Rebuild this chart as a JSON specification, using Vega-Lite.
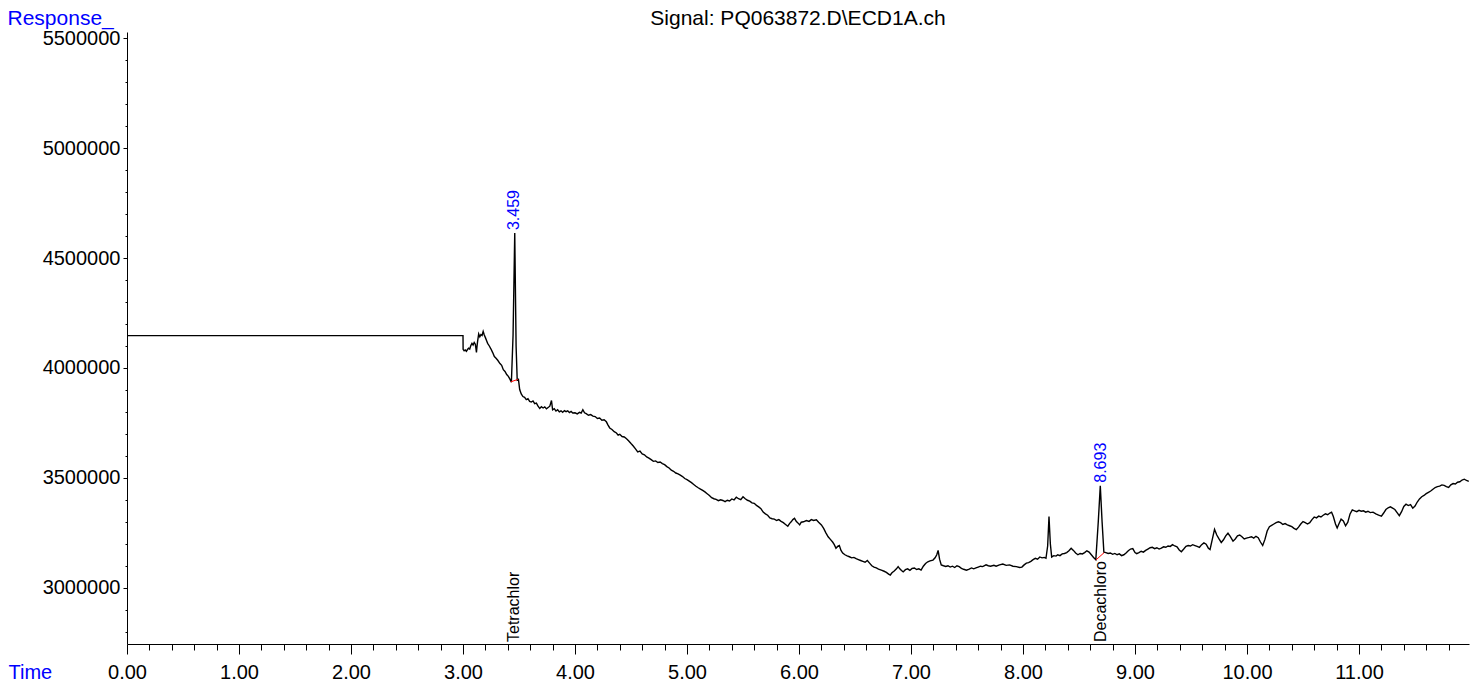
{
"$schema": "https://vega.github.io/schema/vega-lite/v6.json",
"width": 1342, "height": 612,
"autosize": {"type": "none"},
"padding": {"left": 127, "top": 32, "right": 15, "bottom": 39},
"background": "white",
"config": {"view": {"stroke": null}, "font": "Liberation Sans"},
"title": {"text": "Signal: PQ063872.D\\ECD1A.ch", "fontSize": 21, "fontWeight": "normal", "color": "black", "anchor": "middle", "frame": "group", "offset": 0, "dy": 22},
"datasets": {
"trace": [
{"time":0,"response":4147000},{"time":3.0,"response":4147000},{"time":3.001,"response":4085000},{"time":3.01,"response":4078000},{"time":3.02,"response":4082000},{"time":3.03,"response":4076000},{"time":3.04,"response":4084000},{"time":3.05,"response":4090000},{"time":3.06,"response":4086000},{"time":3.07,"response":4102000},{"time":3.08,"response":4112000},{"time":3.09,"response":4104000},{"time":3.1,"response":4116000},{"time":3.11,"response":4108000},{"time":3.115,"response":4090000},{"time":3.12,"response":4071000},{"time":3.125,"response":4098000},{"time":3.13,"response":4120000},{"time":3.14,"response":4155000},{"time":3.15,"response":4142000},{"time":3.16,"response":4152000},{"time":3.17,"response":4148000},{"time":3.18,"response":4166000},{"time":3.19,"response":4150000},{"time":3.2,"response":4138000},{"time":3.21,"response":4125000},{"time":3.22,"response":4112000},{"time":3.235,"response":4100000},{"time":3.25,"response":4086000},{"time":3.265,"response":4070000},{"time":3.28,"response":4052000},{"time":3.295,"response":4044000},{"time":3.31,"response":4035000},{"time":3.33,"response":4020000},{"time":3.345,"response":4012000},{"time":3.36,"response":3992000},{"time":3.375,"response":3984000},{"time":3.39,"response":3970000},{"time":3.405,"response":3962000},{"time":3.42,"response":3948000},{"time":3.432,"response":3935000},{"time":3.447,"response":4150000},{"time":3.462,"response":4614000},{"time":3.474,"response":4100000},{"time":3.484,"response":3945000},{"time":3.495,"response":3948000},{"time":3.506,"response":3902000},{"time":3.52,"response":3882000},{"time":3.535,"response":3870000},{"time":3.55,"response":3866000},{"time":3.565,"response":3856000},{"time":3.58,"response":3860000},{"time":3.595,"response":3848000},{"time":3.61,"response":3845000},{"time":3.625,"response":3850000},{"time":3.64,"response":3838000},{"time":3.655,"response":3840000},{"time":3.67,"response":3826000},{"time":3.685,"response":3816000},{"time":3.7,"response":3824000},{"time":3.715,"response":3818000},{"time":3.73,"response":3823000},{"time":3.745,"response":3814000},{"time":3.76,"response":3820000},{"time":3.775,"response":3826000},{"time":3.79,"response":3852000},{"time":3.8,"response":3810000},{"time":3.815,"response":3815000},{"time":3.83,"response":3804000},{"time":3.845,"response":3810000},{"time":3.86,"response":3800000},{"time":3.875,"response":3805000},{"time":3.89,"response":3798000},{"time":3.905,"response":3806000},{"time":3.92,"response":3801000},{"time":3.935,"response":3805000},{"time":3.95,"response":3797000},{"time":3.965,"response":3802000},{"time":3.98,"response":3795000},{"time":4.0,"response":3796000},{"time":4.02,"response":3791000},{"time":4.04,"response":3798000},{"time":4.055,"response":3795000},{"time":4.07,"response":3810000},{"time":4.085,"response":3796000},{"time":4.1,"response":3792000},{"time":4.12,"response":3785000},{"time":4.14,"response":3788000},{"time":4.16,"response":3781000},{"time":4.18,"response":3779000},{"time":4.2,"response":3770000},{"time":4.22,"response":3772000},{"time":4.24,"response":3762000},{"time":4.26,"response":3764000},{"time":4.28,"response":3755000},{"time":4.295,"response":3740000},{"time":4.31,"response":3727000},{"time":4.33,"response":3720000},{"time":4.35,"response":3710000},{"time":4.37,"response":3704000},{"time":4.385,"response":3694000},{"time":4.4,"response":3698000},{"time":4.42,"response":3688000},{"time":4.44,"response":3686000},{"time":4.46,"response":3678000},{"time":4.48,"response":3668000},{"time":4.5,"response":3656000},{"time":4.52,"response":3645000},{"time":4.54,"response":3632000},{"time":4.56,"response":3618000},{"time":4.58,"response":3622000},{"time":4.6,"response":3609000},{"time":4.62,"response":3605000},{"time":4.64,"response":3595000},{"time":4.66,"response":3590000},{"time":4.68,"response":3583000},{"time":4.7,"response":3575000},{"time":4.72,"response":3577000},{"time":4.74,"response":3570000},{"time":4.76,"response":3572000},{"time":4.78,"response":3565000},{"time":4.8,"response":3560000},{"time":4.82,"response":3551000},{"time":4.84,"response":3545000},{"time":4.86,"response":3535000},{"time":4.88,"response":3530000},{"time":4.9,"response":3522000},{"time":4.92,"response":3518000},{"time":4.94,"response":3512000},{"time":4.96,"response":3506000},{"time":4.98,"response":3497000},{"time":5.0,"response":3492000},{"time":5.02,"response":3485000},{"time":5.04,"response":3478000},{"time":5.06,"response":3470000},{"time":5.08,"response":3462000},{"time":5.1,"response":3455000},{"time":5.12,"response":3449000},{"time":5.14,"response":3443000},{"time":5.16,"response":3436000},{"time":5.18,"response":3428000},{"time":5.2,"response":3420000},{"time":5.22,"response":3410000},{"time":5.24,"response":3405000},{"time":5.26,"response":3402000},{"time":5.28,"response":3396000},{"time":5.3,"response":3400000},{"time":5.32,"response":3397000},{"time":5.34,"response":3392000},{"time":5.36,"response":3398000},{"time":5.38,"response":3395000},{"time":5.4,"response":3404000},{"time":5.42,"response":3400000},{"time":5.44,"response":3412000},{"time":5.46,"response":3405000},{"time":5.48,"response":3401000},{"time":5.5,"response":3414000},{"time":5.52,"response":3405000},{"time":5.54,"response":3398000},{"time":5.56,"response":3394000},{"time":5.58,"response":3386000},{"time":5.6,"response":3384000},{"time":5.62,"response":3375000},{"time":5.64,"response":3368000},{"time":5.66,"response":3360000},{"time":5.68,"response":3344000},{"time":5.7,"response":3336000},{"time":5.72,"response":3330000},{"time":5.74,"response":3318000},{"time":5.76,"response":3314000},{"time":5.78,"response":3312000},{"time":5.8,"response":3306000},{"time":5.82,"response":3310000},{"time":5.84,"response":3302000},{"time":5.86,"response":3296000},{"time":5.88,"response":3288000},{"time":5.9,"response":3280000},{"time":5.915,"response":3292000},{"time":5.93,"response":3300000},{"time":5.945,"response":3310000},{"time":5.96,"response":3316000},{"time":5.975,"response":3302000},{"time":5.99,"response":3295000},{"time":6.006,"response":3286000},{"time":6.02,"response":3298000},{"time":6.04,"response":3300000},{"time":6.066,"response":3306000},{"time":6.09,"response":3302000},{"time":6.11,"response":3310000},{"time":6.13,"response":3306000},{"time":6.155,"response":3309000},{"time":6.175,"response":3298000},{"time":6.2,"response":3286000},{"time":6.22,"response":3270000},{"time":6.24,"response":3250000},{"time":6.26,"response":3232000},{"time":6.28,"response":3220000},{"time":6.3,"response":3208000},{"time":6.315,"response":3196000},{"time":6.33,"response":3180000},{"time":6.345,"response":3188000},{"time":6.36,"response":3192000},{"time":6.375,"response":3170000},{"time":6.39,"response":3158000},{"time":6.41,"response":3150000},{"time":6.43,"response":3145000},{"time":6.45,"response":3141000},{"time":6.47,"response":3136000},{"time":6.49,"response":3138000},{"time":6.51,"response":3132000},{"time":6.53,"response":3128000},{"time":6.55,"response":3124000},{"time":6.57,"response":3120000},{"time":6.59,"response":3116000},{"time":6.61,"response":3124000},{"time":6.63,"response":3112000},{"time":6.65,"response":3100000},{"time":6.67,"response":3094000},{"time":6.69,"response":3090000},{"time":6.71,"response":3085000},{"time":6.735,"response":3080000},{"time":6.76,"response":3075000},{"time":6.78,"response":3070000},{"time":6.8,"response":3062000},{"time":6.815,"response":3058000},{"time":6.83,"response":3068000},{"time":6.85,"response":3076000},{"time":6.87,"response":3086000},{"time":6.885,"response":3096000},{"time":6.9,"response":3086000},{"time":6.915,"response":3078000},{"time":6.93,"response":3072000},{"time":6.95,"response":3082000},{"time":6.97,"response":3086000},{"time":6.99,"response":3079000},{"time":7.01,"response":3088000},{"time":7.03,"response":3090000},{"time":7.05,"response":3083000},{"time":7.07,"response":3086000},{"time":7.09,"response":3080000},{"time":7.11,"response":3098000},{"time":7.13,"response":3110000},{"time":7.15,"response":3118000},{"time":7.17,"response":3122000},{"time":7.196,"response":3126000},{"time":7.215,"response":3136000},{"time":7.23,"response":3150000},{"time":7.242,"response":3170000},{"time":7.255,"response":3130000},{"time":7.27,"response":3104000},{"time":7.29,"response":3100000},{"time":7.31,"response":3097000},{"time":7.33,"response":3100000},{"time":7.35,"response":3094000},{"time":7.37,"response":3098000},{"time":7.39,"response":3092000},{"time":7.41,"response":3100000},{"time":7.43,"response":3096000},{"time":7.45,"response":3088000},{"time":7.47,"response":3084000},{"time":7.495,"response":3080000},{"time":7.52,"response":3085000},{"time":7.54,"response":3090000},{"time":7.56,"response":3086000},{"time":7.58,"response":3090000},{"time":7.6,"response":3094000},{"time":7.62,"response":3098000},{"time":7.64,"response":3096000},{"time":7.67,"response":3104000},{"time":7.69,"response":3100000},{"time":7.71,"response":3098000},{"time":7.74,"response":3102000},{"time":7.76,"response":3098000},{"time":7.79,"response":3104000},{"time":7.82,"response":3108000},{"time":7.85,"response":3102000},{"time":7.88,"response":3104000},{"time":7.91,"response":3098000},{"time":7.94,"response":3096000},{"time":7.97,"response":3092000},{"time":7.99,"response":3094000},{"time":8.01,"response":3104000},{"time":8.03,"response":3112000},{"time":8.05,"response":3114000},{"time":8.07,"response":3120000},{"time":8.09,"response":3128000},{"time":8.11,"response":3134000},{"time":8.13,"response":3130000},{"time":8.15,"response":3140000},{"time":8.17,"response":3136000},{"time":8.19,"response":3138000},{"time":8.205,"response":3134000},{"time":8.22,"response":3190000},{"time":8.232,"response":3324000},{"time":8.244,"response":3200000},{"time":8.256,"response":3140000},{"time":8.275,"response":3146000},{"time":8.295,"response":3144000},{"time":8.31,"response":3150000},{"time":8.33,"response":3146000},{"time":8.35,"response":3154000},{"time":8.37,"response":3156000},{"time":8.39,"response":3160000},{"time":8.41,"response":3168000},{"time":8.43,"response":3180000},{"time":8.45,"response":3170000},{"time":8.47,"response":3158000},{"time":8.49,"response":3150000},{"time":8.51,"response":3156000},{"time":8.53,"response":3154000},{"time":8.55,"response":3160000},{"time":8.57,"response":3168000},{"time":8.59,"response":3162000},{"time":8.61,"response":3150000},{"time":8.63,"response":3138000},{"time":8.65,"response":3128000},{"time":8.672,"response":3300000},{"time":8.69,"response":3464000},{"time":8.706,"response":3300000},{"time":8.722,"response":3162000},{"time":8.74,"response":3160000},{"time":8.76,"response":3156000},{"time":8.78,"response":3158000},{"time":8.8,"response":3152000},{"time":8.82,"response":3156000},{"time":8.84,"response":3150000},{"time":8.86,"response":3154000},{"time":8.88,"response":3146000},{"time":8.9,"response":3150000},{"time":8.92,"response":3158000},{"time":8.94,"response":3168000},{"time":8.96,"response":3176000},{"time":8.98,"response":3178000},{"time":9.0,"response":3160000},{"time":9.015,"response":3155000},{"time":9.035,"response":3160000},{"time":9.055,"response":3166000},{"time":9.075,"response":3162000},{"time":9.095,"response":3170000},{"time":9.115,"response":3176000},{"time":9.135,"response":3182000},{"time":9.155,"response":3184000},{"time":9.175,"response":3178000},{"time":9.195,"response":3182000},{"time":9.215,"response":3176000},{"time":9.235,"response":3180000},{"time":9.255,"response":3186000},{"time":9.275,"response":3184000},{"time":9.295,"response":3190000},{"time":9.315,"response":3188000},{"time":9.335,"response":3196000},{"time":9.355,"response":3190000},{"time":9.375,"response":3186000},{"time":9.395,"response":3172000},{"time":9.414,"response":3164000},{"time":9.435,"response":3176000},{"time":9.455,"response":3188000},{"time":9.475,"response":3192000},{"time":9.495,"response":3190000},{"time":9.515,"response":3196000},{"time":9.535,"response":3192000},{"time":9.555,"response":3188000},{"time":9.575,"response":3184000},{"time":9.595,"response":3196000},{"time":9.615,"response":3204000},{"time":9.635,"response":3198000},{"time":9.655,"response":3180000},{"time":9.67,"response":3174000},{"time":9.69,"response":3220000},{"time":9.71,"response":3266000},{"time":9.73,"response":3240000},{"time":9.75,"response":3222000},{"time":9.77,"response":3206000},{"time":9.79,"response":3218000},{"time":9.81,"response":3236000},{"time":9.83,"response":3248000},{"time":9.85,"response":3234000},{"time":9.875,"response":3212000},{"time":9.895,"response":3222000},{"time":9.915,"response":3236000},{"time":9.935,"response":3240000},{"time":9.955,"response":3232000},{"time":9.975,"response":3222000},{"time":9.995,"response":3226000},{"time":10.02,"response":3229000},{"time":10.04,"response":3232000},{"time":10.06,"response":3226000},{"time":10.08,"response":3234000},{"time":10.1,"response":3228000},{"time":10.12,"response":3208000},{"time":10.14,"response":3192000},{"time":10.16,"response":3220000},{"time":10.18,"response":3258000},{"time":10.2,"response":3278000},{"time":10.22,"response":3284000},{"time":10.24,"response":3290000},{"time":10.26,"response":3296000},{"time":10.28,"response":3300000},{"time":10.3,"response":3296000},{"time":10.32,"response":3288000},{"time":10.34,"response":3292000},{"time":10.36,"response":3286000},{"time":10.38,"response":3282000},{"time":10.4,"response":3278000},{"time":10.42,"response":3270000},{"time":10.44,"response":3264000},{"time":10.46,"response":3276000},{"time":10.48,"response":3290000},{"time":10.5,"response":3301000},{"time":10.52,"response":3296000},{"time":10.54,"response":3290000},{"time":10.56,"response":3296000},{"time":10.58,"response":3310000},{"time":10.6,"response":3322000},{"time":10.62,"response":3318000},{"time":10.64,"response":3326000},{"time":10.66,"response":3322000},{"time":10.68,"response":3330000},{"time":10.7,"response":3336000},{"time":10.72,"response":3332000},{"time":10.74,"response":3340000},{"time":10.755,"response":3344000},{"time":10.77,"response":3325000},{"time":10.79,"response":3290000},{"time":10.805,"response":3272000},{"time":10.82,"response":3290000},{"time":10.84,"response":3312000},{"time":10.86,"response":3304000},{"time":10.88,"response":3282000},{"time":10.9,"response":3298000},{"time":10.92,"response":3336000},{"time":10.94,"response":3354000},{"time":10.96,"response":3350000},{"time":10.98,"response":3346000},{"time":11.0,"response":3352000},{"time":11.02,"response":3348000},{"time":11.04,"response":3350000},{"time":11.06,"response":3344000},{"time":11.08,"response":3348000},{"time":11.1,"response":3342000},{"time":11.125,"response":3344000},{"time":11.15,"response":3336000},{"time":11.175,"response":3330000},{"time":11.2,"response":3326000},{"time":11.22,"response":3340000},{"time":11.24,"response":3356000},{"time":11.26,"response":3364000},{"time":11.28,"response":3368000},{"time":11.3,"response":3362000},{"time":11.32,"response":3356000},{"time":11.34,"response":3342000},{"time":11.36,"response":3328000},{"time":11.38,"response":3346000},{"time":11.4,"response":3370000},{"time":11.42,"response":3380000},{"time":11.44,"response":3374000},{"time":11.46,"response":3378000},{"time":11.48,"response":3362000},{"time":11.5,"response":3372000},{"time":11.52,"response":3390000},{"time":11.54,"response":3404000},{"time":11.56,"response":3414000},{"time":11.58,"response":3420000},{"time":11.6,"response":3428000},{"time":11.62,"response":3434000},{"time":11.64,"response":3440000},{"time":11.66,"response":3448000},{"time":11.68,"response":3456000},{"time":11.7,"response":3460000},{"time":11.72,"response":3462000},{"time":11.74,"response":3468000},{"time":11.76,"response":3466000},{"time":11.78,"response":3460000},{"time":11.8,"response":3456000},{"time":11.82,"response":3468000},{"time":11.84,"response":3474000},{"time":11.86,"response":3472000},{"time":11.88,"response":3480000},{"time":11.9,"response":3482000},{"time":11.92,"response":3490000},{"time":11.94,"response":3494000},{"time":11.96,"response":3488000},{"time":11.98,"response":3484000}
],
"baselines": [
{"peak":"3.459","time":3.428,"response":3937000},{"peak":"3.459","time":3.49,"response":3948000},
{"peak":"8.693","time":8.65,"response":3126000},{"peak":"8.693","time":8.725,"response":3160000}
],
"peaks": [
{"time":3.459,"response":4614000,"label":"3.459"},
{"time":8.693,"response":3464000,"label":"8.693"}
],
"compounds": [
{"time":3.459,"name":"Tetrachlor"},
{"time":8.693,"name":"Decachloro"}
]
},
"layer": [
{
"data": {"name": "trace"},
"mark": {"type": "line", "color": "black", "strokeWidth": 1.4},
"encoding": {
"x": {"field": "time", "type": "quantitative",
"scale": {"domain": [0, 11.982], "nice": false, "zero": false},
"axis": {
"values": [0,0.2,0.4,0.6,0.8,1,1.2,1.4,1.6,1.8,2,2.2,2.4,2.6,2.8,3,3.2,3.4,3.6,3.8,4,4.2,4.4,4.6,4.8,5,5.2,5.4,5.6,5.8,6,6.2,6.4,6.6,6.8,7,7.2,7.4,7.6,7.8,8,8.2,8.4,8.6,8.8,9,9.2,9.4,9.6,9.8,10,10.2,10.4,10.6,10.8,11,11.2,11.4,11.6,11.8],
"tickCount": 500,
"format": ".2f",
"labelExpr": "abs(datum.value - round(datum.value)) < 0.01 ? datum.label : ''",
"tickSize": {"condition": {"test": "abs(datum.value - round(datum.value)) < 0.01", "value": 10}, "value": 6},
"tickColor": "black", "domainColor": "black", "grid": false,
"labelFontSize": 20, "labelColor": "black", "labelPadding": 8, "labelOverlap": false, "labelFlush": false,
"title": "Time", "titleColor": "blue", "titleFontSize": 20, "titleFontWeight": "normal",
"titleAngle": 0, "titleAlign": "left", "titleBaseline": "alphabetic", "titleAnchor": "start", "titleX": -119, "titleY": 34
}
},
"y": {"field": "response", "type": "quantitative",
"scale": {"domain": [2744000, 5528700], "nice": false, "zero": false},
"axis": {
"values": [2800000,2900000,3000000,3100000,3200000,3300000,3400000,3500000,3600000,3700000,3800000,3900000,4000000,4100000,4200000,4300000,4400000,4500000,4600000,4700000,4800000,4900000,5000000,5100000,5200000,5300000,5400000,5500000],
"tickCount": 500,
"format": "d",
"labelExpr": "datum.value % 500000 == 0 ? datum.label : ''",
"tickSize": {"condition": {"test": "datum.value % 500000 == 0", "value": 4}, "value": 2},
"tickColor": "black", "domainColor": "black", "grid": false,
"labelFontSize": 20, "labelColor": "black", "labelPadding": 3, "labelOverlap": false, "labelFlush": false,
"title": "Response_", "titleColor": "blue", "titleFontSize": 21, "titleFontWeight": "normal",
"titleAngle": 0, "titleAlign": "left", "titleBaseline": "alphabetic", "titleAnchor": "start", "titleX": -120, "titleY": -8
}
}
}
},
{
"data": {"name": "baselines"},
"mark": {"type": "line", "color": "red", "strokeWidth": 1},
"encoding": {
"x": {"field": "time", "type": "quantitative"},
"y": {"field": "response", "type": "quantitative"},
"detail": {"field": "peak"}
}
},
{
"data": {"name": "peaks"},
"mark": {"type": "text", "angle": 270, "align": "left", "baseline": "middle", "dx": 3, "color": "blue", "fontSize": 16},
"encoding": {
"x": {"field": "time", "type": "quantitative"},
"y": {"field": "response", "type": "quantitative"},
"text": {"field": "label"}
}
},
{
"data": {"name": "compounds"},
"mark": {"type": "text", "angle": 270, "align": "left", "baseline": "middle", "dx": 2, "color": "black", "fontSize": 16, "y": {"expr": "height"}},
"encoding": {
"x": {"field": "time", "type": "quantitative"},
"text": {"field": "name"}
}
}
]
}
